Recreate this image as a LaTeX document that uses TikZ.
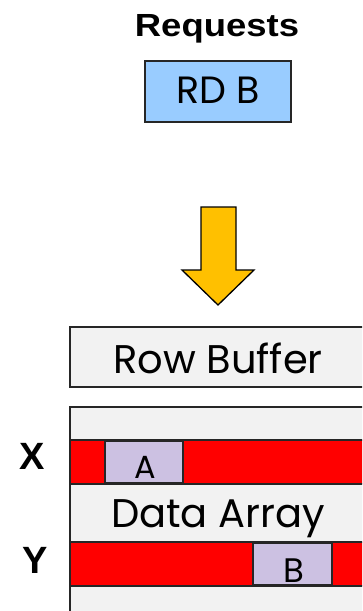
\documentclass[tikz,border=0pt]{standalone}
\usepackage{graphicx}
\usepackage{fontspec}
\setmainfont{Poppins}
\newfontfamily\headfont{Liberation Sans}
\usetikzlibrary{positioning}

\definecolor{reqblue}{HTML}{99CCFF}
\definecolor{cellgray}{HTML}{F2F2F2}
\definecolor{rowred}{HTML}{FF0000}
\definecolor{hitpurple}{HTML}{CCC1E2}
\definecolor{arrowgold}{HTML}{FFC000}

\begin{document}
\begin{tikzpicture}[
  x=1pt,y=-1pt,
  box/.style={draw=black!85,line width=1.3pt},
  bank/.style={box,fill=cellgray},
  row/.style={box,fill=rowred},
  word/.style={box,fill=hitpurple},
  label/.style={font=\headfont\bfseries\fontsize{38}{42}\selectfont,anchor=base},
  big/.style={font=\fontsize{40}{44}\selectfont,anchor=base},
  mid/.style={font=\fontsize{33}{36}\selectfont,anchor=base}
]
  \clip (0,0) rectangle (362,611);

  % request queue
  \node[font=\headfont\bfseries\fontsize{32}{35}\selectfont,anchor=base] (req)
    at (217,36) {\scalebox{1.14}[1]{Requests}};
  \draw[box,fill=reqblue] (145,61) rectangle (291,122);
  \node[mid,font=\fontsize{38}{42}\selectfont] (rdb) at (218,103) {RD B};

  % block arrow into the bank
  \draw[line width=1.3pt,fill=arrowgold,line join=miter]
    (201,207) -- (236,207) -- (236,270) -- (254,270) -- (218,305)
    -- (182,270) -- (201,270) -- cycle;

  % row buffer
  \draw[bank] (70,327) rectangle (375,387);
  \node[big] (rowbuf) at (218,373) {Row Buffer};

  % data array with rows X and Y
  \draw[bank] (70,407) rectangle (375,625);
  \draw[row] (70,440) rectangle (375,484);
  \draw[row] (70,542) rectangle (375,586);
  \draw[word] (105,441) rectangle (183,483);
  \draw[word] (253,543) rectangle (332,585);
  \node[mid,font=\fontsize{32}{35}\selectfont] (cellA) at (145,478) {A};
  \node[mid,font=\fontsize{34}{37}\selectfont] (cellB) at (294,582) {B};
  \node[big] (array) at (218,527) {Data Array};

  \node[label] (rowX) at (32,469) {X};
  \node[label] (rowY) at (35,573) {Y};
\end{tikzpicture}
\end{document}
